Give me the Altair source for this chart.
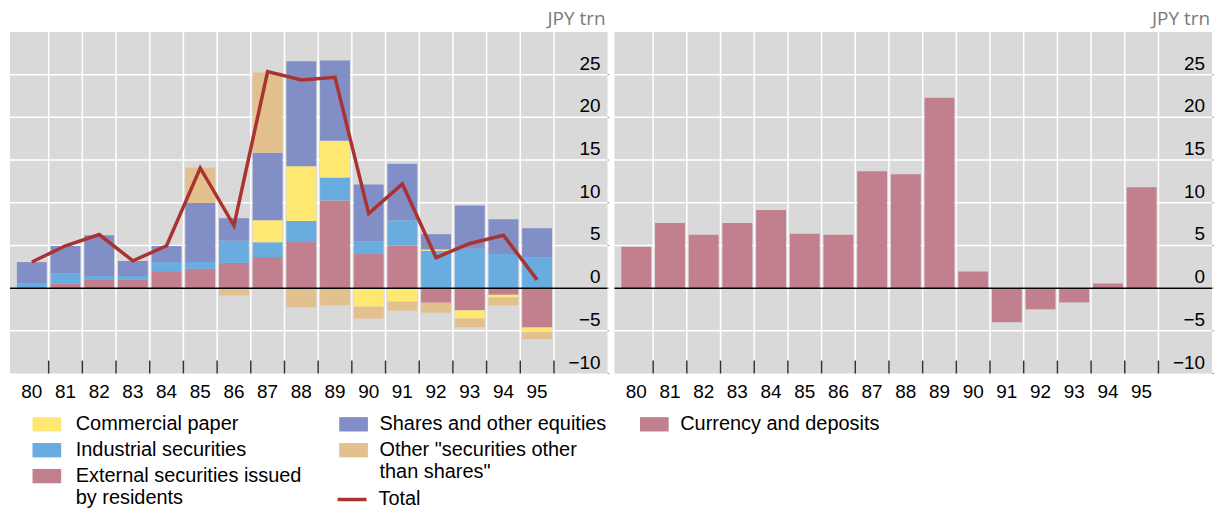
import altair as alt
import pandas as pd

# ---------------- data (JPY trn) ----------------
years = list(range(80, 96))
year_labels = [str(y) for y in years]

external_securities = [0.1, 0.5, 1.05, 1.05, 2.0, 2.25, 2.95, 3.64, 5.39, 10.27, 3.99, 4.96, -1.71, -2.6, -0.78, -4.61]
industrial_securities = [0.5, 1.17, 0.38, 0.38, 1.06, 0.81, 2.6, 1.74, 2.48, 2.68, 1.51, 2.99, 4.38, 4.61, 3.99, 3.64]
commercial_paper = [0, 0, 0, 0, 0, 0, 0, 2.56, 6.4, 4.3, -2.17, -1.59, 0.15, -0.97, -0.31, -0.55]
shares_equities = [2.45, 3.25, 4.77, 1.75, 1.86, 6.9, 2.64, 7.9, 12.29, 9.42, 6.63, 6.62, 1.79, 5.08, 4.07, 3.38]
other_securities = [0, 0, 0, 0, 0, 4.15, -0.85, 9.42, -2.25, -2.0, -1.4, -1.05, -1.16, -1.0, -0.93, -0.81]
total = [3.06, 4.96, 6.28, 3.2, 4.96, 14.07, 7.33, 25.35, 24.38, 24.69, 8.72, 12.2, 3.57, 5.23, 6.2, 0.97]
currency_deposits = [4.84, 7.64, 6.24, 7.64, 9.15, 6.36, 6.24, 13.68, 13.33, 22.29, 1.94, -3.99, -2.48, -1.67, 0.54, 11.82]

name_cp = "Commercial paper"
name_ind = "Industrial securities"
name_ext = "External securities issued by residents"
name_sh = "Shares and other equities"
name_oth = 'Other "securities other than shares"'
name_tot = "Total"
name_cur = "Currency and deposits"
unit_label = "JPY trn"
y_ticks = [-10, -5, 0, 5, 10, 15, 20, 25]
y_tick_labels = ["\u221210", "\u22125", "0", "5", "10", "15", "20", "25"]

# ---------------- styles ----------------
PINK = "#c27f8e"
BLUE = "#69ade0"
YELLOW = "#fee872"
PURPLE = "#828fc6"
TAN = "#e3c18f"
RED = "#a93331"
FONT = "Liberation Sans"
W, H = 600, 343

# stacking order bottom -> top
stack_series = [name_ext, name_ind, name_cp, name_sh, name_oth]
stack_values = [external_securities, industrial_securities, commercial_paper, shares_equities, other_securities]
stack_group = ["c", "c", "c", "f", "f"]

rows = []
for k, (nm, vals, grp) in enumerate(zip(stack_series, stack_values, stack_group)):
    for yr, v in zip(years, vals):
        rows.append({"year": yr, "series": nm, "value": v, "order": k, "grp": grp})
df_stack = pd.DataFrame(rows)
df_total = pd.DataFrame({"year": years, "total": total, "series": name_tot})
df_cur = pd.DataFrame({"year": years, "value": currency_deposits, "series": name_cur})
df_years = pd.DataFrame({"year": years, "label": year_labels})
df_yticks = pd.DataFrame({"v": y_ticks, "label": y_tick_labels})
df_zero = pd.DataFrame({"z": [0]})
df_unit = pd.DataFrame({"u": [unit_label]})

xscale = alt.Scale(domain=[79.5, 79.5 + W / 34.4], nice=False, zero=False)
yscale = alt.Scale(domain=[-10, 30], nice=False, zero=False)


def frame_back():
    vgrid = alt.Chart(df_years).transform_calculate(b="datum.year + 0.5").mark_rule(
        color="white", strokeWidth=1.5).encode(x=alt.X("b:Q", scale=xscale, axis=None))
    hgrid = alt.Chart(df_yticks).transform_filter("datum.v > -10").mark_rule(
        color="white", strokeWidth=1.5).encode(y=alt.Y("v:Q", scale=yscale, axis=None))
    return [vgrid, hgrid]


def frame_front():
    zero = alt.Chart(df_zero).mark_rule(color="black", strokeWidth=1.5).encode(
        y=alt.Y("z:Q", scale=yscale, axis=None))
    xticks = alt.Chart(df_years).transform_calculate(b="datum.year + 0.5").mark_rule(
        color="#333333", strokeWidth=1.5).encode(
        x=alt.X("b:Q", scale=xscale, axis=None), y=alt.value(H - 13), y2=alt.value(H))
    xlabels = alt.Chart(df_years).mark_text(baseline="alphabetic", align="center", fontSize=19,
                                            font=FONT, color="black").encode(
        x=alt.X("year:Q", scale=xscale, axis=None), y=alt.value(H + 25), text="label:N")
    yticks = alt.Chart(df_yticks).mark_rule(color="#9a9a9a", strokeWidth=1).encode(
        y=alt.Y("v:Q", scale=yscale, axis=None), x=alt.value(W), x2=alt.value(W + 2))
    ylabels = alt.Chart(df_yticks).mark_text(baseline="alphabetic", align="right", fontSize=19,
                                             font=FONT, color="black", dy=-5).encode(
        y=alt.Y("v:Q", scale=yscale, axis=None), x=alt.value(W - 7), text="label:N")
    unit = alt.Chart(df_unit).mark_text(align="right", baseline="alphabetic", fontSize=19,
                                        color="#7a7a7a", font="Open Sans").encode(
        text="u:N", x=alt.value(W - 2), y=alt.value(-7))
    return [zero, xticks, xlabels, yticks, ylabels, unit]


# ---------------- left panel ----------------
base = alt.Chart(df_stack).transform_stack(
    stack="value", groupby=["year"], as_=["y0", "y1"],
    sort=[alt.SortField("order", order="ascending")])

bars_c = base.transform_filter(alt.datum.grp == "c").mark_bar(size=30).encode(
    x=alt.X("year:Q", scale=xscale, axis=None),
    y=alt.Y("y0:Q", scale=yscale, axis=None),
    y2="y1:Q",
    color=alt.Color("series:N", scale=alt.Scale(domain=[name_cp, name_ind, name_ext],
                                                range=[YELLOW, BLUE, PINK]),
                    legend=alt.Legend(title=None, orient="none", legendX=27, legendY=384,
                                      labelExpr="datum.label == '" + name_ext + "' ? ['External securities issued', 'by residents'] : datum.label")),
)
bars_f = base.transform_filter(alt.datum.grp == "f").mark_bar(size=30).encode(
    x=alt.X("year:Q", scale=xscale, axis=None),
    y=alt.Y("y0:Q", scale=yscale, axis=None),
    y2="y1:Q",
    fill=alt.Fill("series:N", scale=alt.Scale(domain=[name_sh, name_oth], range=[PURPLE, TAN]),
                  legend=alt.Legend(title=None, orient="none", legendX=335, legendY=384,
                                    labelOffset=16,
                                    labelExpr="indexof(datum.label, 'Other') == 0 ? ['Other \"securities other', 'than shares\"'] : datum.label")),
)
line = alt.Chart(df_total).mark_line(strokeWidth=3.5).encode(
    x=alt.X("year:Q", scale=xscale, axis=None),
    y=alt.Y("total:Q", scale=yscale, axis=None),
    stroke=alt.Stroke("series:N", scale=alt.Scale(domain=[name_tot], range=[RED]),
                      legend=alt.Legend(title=None, orient="none", legendX=327, legendY=453,
                                        symbolType="stroke", symbolStrokeWidth=3.5,
                                        symbolSize=841, labelOffset=10)),
)
left = alt.layer(*frame_back(), bars_c, bars_f, line, *frame_front()).properties(width=W, height=H)

# ---------------- right panel ----------------
bars_r = alt.Chart(df_cur).mark_bar(size=30).encode(
    x=alt.X("year:Q", scale=xscale, axis=None),
    y=alt.Y("value:Q", scale=yscale, axis=None),
    color=alt.Color("series:N", scale=alt.Scale(domain=[name_cur], range=[PINK]),
                    legend=alt.Legend(title=None, orient="none", legendX=30, legendY=384,
                                      labelOffset=16)),
)
right = alt.layer(*frame_back(), bars_r, *frame_front()).properties(width=W, height=H)

chart = alt.hconcat(left, right, spacing=3).resolve_scale(color="independent").properties(
    padding={"left": 1, "top": 1, "right": 0, "bottom": 0}
).configure_view(fill="#d9d9d9", stroke=None).configure_legend(
    padding=0, rowPadding=6, labelFontSize=20, labelFont=FONT, labelColor="black",
    labelLimit=600, labelOffset=19, symbolSize=324, symbolType="M-1.6,-0.8H1.6V0.8H-1.6Z",
    symbolStrokeWidth=0,
)

chart.save("out.html", embed_options={"renderer": "svg", "actions": False})
